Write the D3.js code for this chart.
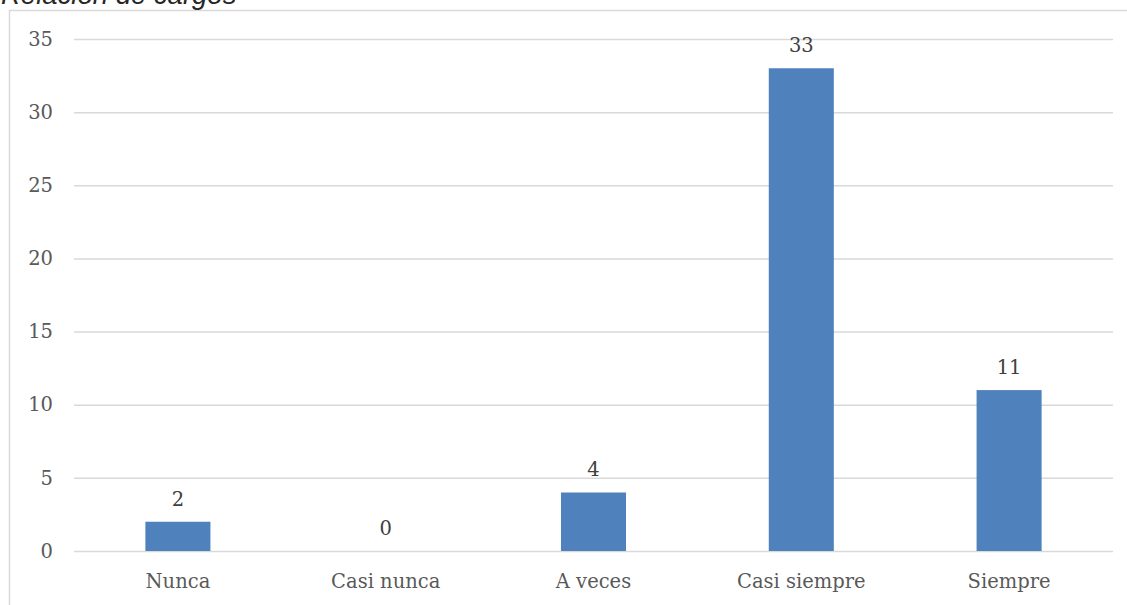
<!DOCTYPE html>
<html>
<head>
<meta charset="utf-8">
<script src="https://cdn.jsdelivr.net/npm/d3@7"></script>
<style>
  html, body { margin: 0; padding: 0; background: #fff; }
  svg { display: block; }
</style>
</head>
<body>
<svg id="chart" width="1127" height="605"></svg>
<script>
// Responses per frequency category
const categories = ["Nunca", "Casi nunca", "A veces", "Casi siempre", "Siempre"];
const counts = [2, 0, 4, 33, 11];
const yTicks = [0, 5, 10, 15, 20, 25, 30, 35];
const title = "Relación de cargos";

const svg = d3.select("#chart");
const W = 1127, H = 605;
const plot = { left: 74, right: 1113, top: 39, bottom: 551 };

// Outer frame (top and left edges visible)
svg.append("path")
  .attr("d", `M9.5,${H} V10.5 H${W}`)
  .attr("fill", "none")
  .attr("stroke", "#d9d9d9")
  .attr("stroke-width", 1.5);

// Title, partially clipped by the top edge
svg.append("text")
  .attr("x", 1)
  .attr("y", 4)
  .attr("font-family", "Liberation Sans, Arial, sans-serif")
  .attr("font-style", "italic")
  .attr("font-size", 27.5)
  .attr("fill", "#262626")
  .text(title);

const x = d3.scaleBand()
  .domain(categories)
  .range([plot.left, plot.right])
  .paddingInner(0)
  .paddingOuter(0);

const y = d3.scaleLinear()
  .domain([0, 35])
  .range([plot.bottom, plot.top]);

const barW = x.bandwidth() * 0.313;
const serif = "'DejaVu Serif', serif";
const fs = 19.5;

// Horizontal gridlines
const yAxis = d3.axisLeft(y)
  .tickValues(yTicks)
  .tickSize(-(plot.right - plot.left))
  .tickPadding(21)
  .tickFormat(d3.format("d"));

const gy = svg.append("g")
  .attr("transform", `translate(${plot.left},0)`)
  .call(yAxis);
gy.select(".domain").remove();
gy.selectAll(".tick line")
  .attr("stroke", "#d9d9d9")
  .attr("stroke-width", 1.5);
gy.selectAll(".tick text")
  .attr("font-family", serif)
  .attr("font-size", fs)
  .attr("fill", "#595959");

// Category axis labels
const xAxis = d3.axisBottom(x).tickSize(0).tickPadding(23);
const gx = svg.append("g")
  .attr("transform", `translate(0,${plot.bottom})`)
  .call(xAxis);
gx.select(".domain").remove();
gx.selectAll(".tick text")
  .attr("font-family", serif)
  .attr("font-size", fs)
  .attr("fill", "#595959");

// Bars
svg.append("g")
  .selectAll("rect")
  .data(counts)
  .join("rect")
  .attr("x", (d, i) => x(categories[i]) + x.bandwidth() / 2 - barW / 2)
  .attr("y", d => y(d))
  .attr("width", barW)
  .attr("height", d => y(0) - y(d))
  .attr("fill", "#4f81bd");

// Value labels above bars
svg.append("g")
  .selectAll("text")
  .data(counts)
  .join("text")
  .attr("x", (d, i) => x(categories[i]) + x.bandwidth() / 2)
  .attr("y", d => y(d) - 16)
  .attr("text-anchor", "middle")
  .attr("font-family", serif)
  .attr("font-size", fs)
  .attr("fill", "#404040")
  .text(d => d);
</script>
</body>
</html>
